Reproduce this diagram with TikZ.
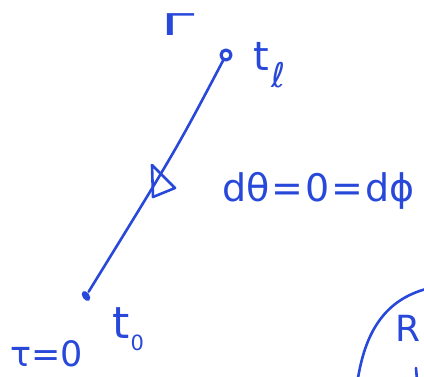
\documentclass[tikz,border=0pt]{standalone}
\usepackage{fontspec}
\setmainfont{DejaVu Sans}
\usetikzlibrary{shapes.geometric}
\definecolor{ink}{RGB}{40,72,218}
\begin{document}
\begin{tikzpicture}[x=1pt,y=-1pt,line width=2.6pt,line cap=round,line join=round,
  inkline/.style={draw=ink,line width=2.6pt},
  lbl/.style={text=ink,inner sep=0pt},
  endpt/.style={draw=ink,circle,minimum size=10pt,inner sep=0pt,line width=3.2pt},
  startpt/.style={fill=ink,ellipse,minimum width=7pt,minimum height=11pt,inner sep=0pt,rotate=35}]
\useasboundingbox (0,0) rectangle (424,376);
\clip (0,0) rectangle (424,376);
% curve label
\node[lbl,font=\fontsize{30}{32}\selectfont] (gam) at (178,25) {\scalebox{2}[1]{Γ}};
% end points
\node[endpt] (tl) at (226,55) {};
\node[startpt] (t0) at (86,296) {};
% world line
\draw[inkline] (tl) .. controls (176,150) .. (t0);
% arrow marker
\draw[inkline] (152,165) -- (175,188) -- (153,197) -- cycle;
% labels
\node[lbl,anchor=base west,font=\fontsize{40}{42}\selectfont] (tllab) at (252,70) {t\hspace{3pt}\raisebox{-17pt}{\fontsize{34}{36}\selectfont ℓ}};
\node[lbl,anchor=base west,font=\fontsize{44}{46}\selectfont] (t0lab) at (111,338) {t\hspace{1pt}\raisebox{-12pt}{\fontsize{21}{23}\selectfont 0}};
\node[lbl,anchor=base west,font=\fontsize{35}{37}\selectfont] (tau) at (9,366) {τ=0};
\node[lbl,anchor=base west,font=\fontsize{38}{40}\selectfont] (eq) at (221,201) {dθ\hspace{2pt}=\hspace{2pt}0\hspace{2pt}=\hspace{2pt}dϕ};
% region R
\draw[inkline] (358,378) .. controls (366,330) and (386,300) .. (426,289);
\draw[inkline] (416,368) -- (417,380);
\node[lbl,anchor=east,font=\fontsize{36}{38}\selectfont] (R) at (422,328) {R};
\end{tikzpicture}
\end{document}
